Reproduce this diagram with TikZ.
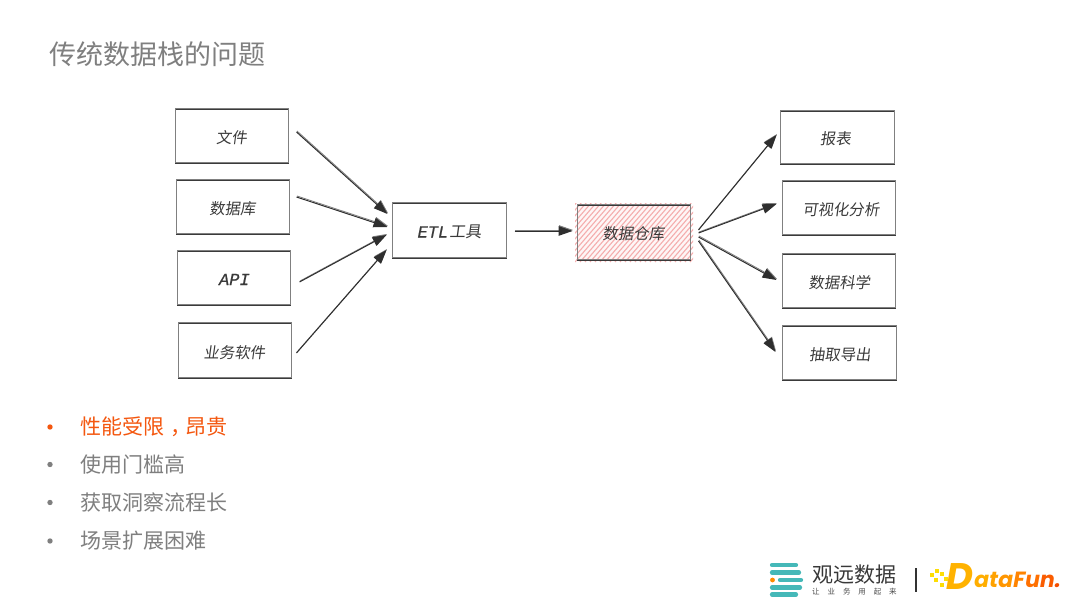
\documentclass[tikz,border=0pt]{standalone}
\usepackage{fontspec}
\usetikzlibrary{arrows.meta,calc}
\setmainfont{Noto Sans CJK SC}
\newfontfamily\handfont[FakeSlant=0.14]{Noto Sans CJK SC}
\newfontfamily\handlatin[FakeSlant=0.2,FakeBold=0.6]{Liberation Mono}
\newfontfamily\logofont[FakeSlant=0.18]{Poppins}
\definecolor{inkdark}{HTML}{2E2E2E}
\definecolor{inkline}{HTML}{3A3A3A}
\definecolor{titlegray}{HTML}{7F7F7F}
\definecolor{hotorange}{HTML}{F4570F}
\definecolor{teal}{HTML}{45B8B8}
\definecolor{hatchred}{HTML}{F5AEAE}
\definecolor{hatchback}{HTML}{FEF6F6}
\tikzset{
  x=1pt,y=-1pt,
  sketchbox/.style={draw=inkline,line width=1pt,inner sep=0pt,
    minimum width=113pt,minimum height=#1,anchor=center,
    text height=17pt,text depth=3pt,
    font=\handfont\fontsize{15.4}{15.4}\selectfont,text=inkline,
    postaction={draw=gray,line width=0.8pt,transform canvas={shift={(0.8pt,0.9pt)}}}},
  sketchbox/.default=54pt,
  sketcharrow/.style={draw=inkdark,line width=1pt,
    -{Triangle[length=14pt,width=9.5pt]},
    preaction={draw=gray,line width=0.8pt,transform canvas={shift={(0.5pt,1pt)}}}},
  titletext/.style={anchor=west,inner sep=0pt,text=titlegray,font=\fontsize{27}{27}\selectfont},
  bullettext/.style={anchor=west,inner sep=0pt,text=titlegray,font=\fontsize{21}{21}\selectfont},
  bulletdot/.style={circle,fill=titlegray,inner sep=0pt,minimum size=5.4pt},
  logobar/.style={draw=teal,line width=4.2pt,line cap=round},
}
\begin{document}
\begin{tikzpicture}
\useasboundingbox (0,0) rectangle (1080,608);
\fill[white] (0,0) rectangle (1080,608);

% heading
\node[titletext] (title) at (49.5,54) {传统数据栈的问题};

% source boxes
\node[sketchbox] (src1) at (231.5,136) {文件};
\node[sketchbox] (src2) at (232.5,207) {数据库};
\node[sketchbox] (src3) at (233.5,278) {\handlatin\fontsize{17}{17}\selectfont API};
\node[sketchbox=55pt] (src4) at (234.5,351) {业务软件};

% middle stages
\node[sketchbox=55pt,minimum width=114pt] (etl) at (449,230.5) {\handlatin\fontsize{17}{17}\selectfont ETL\hspace{2pt}\handfont\fontsize{16}{16}\selectfont 工具};

% hachure under the warehouse box, running a little past its edges
\fill[hatchback] (577,205) rectangle (690,260);
\begin{scope}
  \clip (575,203) rectangle (693,262);
  \foreach \k in {510,515,...,700}
    \draw[hatchred,line width=1.1pt] (\k,262) -- ++(52,-60);
\end{scope}
\node[sketchbox=55pt] (dw) at (633.5,232.5) {数据仓库};

% consumer boxes
\node[sketchbox=53pt,minimum width=114pt] (out1) at (837,137.5) {\hspace{-3pt}报表};
\node[sketchbox] (out2) at (838.5,208) {\hspace{5pt}可视化分析};
\node[sketchbox] (out3) at (838.5,281) {\hspace{2pt}数据科学};
\node[sketchbox,minimum width=114pt] (out4) at (839,353) {\hspace{2pt}抽取导出};

% connectors into the ETL stage
\draw[sketcharrow] ([shift={(8,-4)}]src1.east) -- ([shift={(-4,-16.5)}]etl.west);
\draw[sketcharrow] ([shift={(7,-10)}]src2.east) -- ([shift={(-4,-3.5)}]etl.west);
\draw[sketcharrow] ([shift={(9,4)}]src3.east) -- ([shift={(-5,4.5)}]etl.west);
\draw[sketcharrow] ([shift={(5,2)}]src4.east) -- ([shift={(-5,19.5)}]etl.west);

% connector into the warehouse
\draw[sketcharrow] ([shift={(8,0.5)}]etl.east) -- ([shift={(-4,-1.5)}]dw.west);

% connectors out of the warehouse
\draw[sketcharrow] ([shift={(8,-2.5)}]dw.east) -- ([shift={(-3,-2.5)}]out1.west);
\draw[sketcharrow] ([shift={(8,0.5)}]dw.east) -- ([shift={(-5,-4)}]out2.west);
\draw[sketcharrow] ([shift={(8,4.5)}]dw.east) -- ([shift={(-5,-1)}]out3.west);
\draw[sketcharrow] ([shift={(8,8.5)}]dw.east) -- ([shift={(-6,-1)}]out4.west);

% bullet list
\node[bulletdot,fill=hotorange] (d1) at (50,427) {};
\node[bulletdot] (d2) at (50,464.5) {};
\node[bulletdot] (d3) at (50,502.5) {};
\node[bulletdot] (d4) at (50,541) {};
\node[bullettext,text=hotorange] (b1) at (80,427) {性能受限\hspace{6pt}，\hspace{-6pt}昂贵};
\node[bullettext] (b2) at (80,464.5) {使用门槛高};
\node[bullettext] (b3) at (80,502.5) {获取洞察流程长};
\node[bullettext] (b4) at (80,541) {场景扩展困难};

% left logo mark
\draw[logobar] (772,565) -- (796,565);
\draw[logobar] (772,572.5) -- (799,572.5);
\draw[logobar] (780,580) -- (801,580);
\draw[logobar] (772,587.5) -- (800,587.5);
\draw[logobar] (772,594.5) -- (796,594.5);
\fill[orange!90!yellow] (772.5,580) circle (2.4);

% left logo wording
\node[anchor=west,inner sep=0pt,text=black!78,font=\fontsize{21}{21}\selectfont] (brand) at (812,575) {观远数据};
\node[anchor=west,inner sep=0pt,text=black!70,font=\fontsize{7.5}{7.5}\selectfont] (motto) at (812,591.5)
  {让\hspace{7.9pt}业\hspace{7.9pt}务\hspace{7.9pt}用\hspace{7.9pt}起\hspace{7.9pt}来};

% divider
\draw[black!80,line width=1.2pt] (916,568) -- (916,592);

% right logo
\node[anchor=west,inner sep=0pt,font=\logofont\bfseries\fontsize{37}{37}\selectfont,text=orange!60!yellow] (bigd) at (944,577) {D};
\node[anchor=west,inner sep=0pt,font=\logofont\bfseries\fontsize{22}{22}\selectfont] (fun) at (973,580)
  {\textcolor[HTML]{FFAE00}{a}\textcolor[HTML]{FFA200}{t}\textcolor[HTML]{FF9600}{a}\textcolor[HTML]{FF8400}{F}\textcolor[HTML]{FF7000}{u}\textcolor[HTML]{FA5C00}{n}\textcolor[HTML]{F44E00}{.}};
\foreach \px/\py/\pr in {932/575/1.6,936/580/1.8,937/571/1.8,942/574/2.3,946/579/1.9,942/585/2.3}
  \fill[yellow!80!orange] (\px-\pr,\py-\pr) rectangle (\px+\pr,\py+\pr);
\end{tikzpicture}
\end{document}
